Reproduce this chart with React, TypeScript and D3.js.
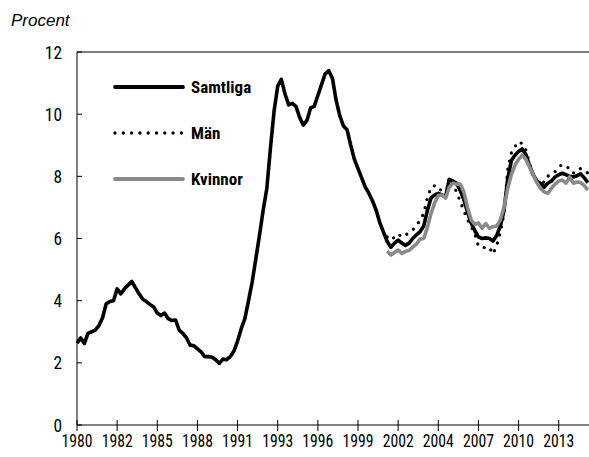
import { scaleLinear, line } from "d3";

// Arbetslöshet, kvartal 1980K1 – 2015K1
const genderStart = 85; // Män/Kvinnor börjar 2001K2

const samtliga = [
  2.63, 2.8, 2.62, 2.95, 3.0, 3.05, 3.2, 3.45, 3.9, 3.97,
  4.0, 4.38, 4.22, 4.38, 4.5, 4.62, 4.42, 4.22, 4.05, 3.97,
  3.88, 3.8, 3.6, 3.52, 3.6, 3.42, 3.36, 3.38, 3.05, 2.95,
  2.8, 2.57, 2.55, 2.45, 2.35, 2.2, 2.2, 2.18, 2.1, 1.98,
  2.12, 2.1, 2.2, 2.38, 2.7, 3.1, 3.42, 4.0, 4.6, 5.35,
  6.1, 6.9, 7.6, 8.9, 10.1, 10.9, 11.12, 10.65, 10.3, 10.35,
  10.25, 9.9, 9.65, 9.8, 10.2, 10.25, 10.6, 10.95, 11.3, 11.4,
  11.15, 10.45, 9.95, 9.62, 9.5, 9.0, 8.55, 8.25, 7.95, 7.65,
  7.45, 7.2, 6.9, 6.5, 6.2, 5.9, 5.72, 5.85, 5.95, 5.85,
  5.78, 5.85, 6.0, 6.12, 6.22, 6.4, 6.9, 7.3, 7.4, 7.45,
  7.4, 7.35, 7.9, 7.85, 7.78, 7.55, 7.25, 6.85, 6.5, 6.25,
  6.05, 6.0, 6.02, 6.0, 5.92, 6.1, 6.4, 6.9, 7.9, 8.5,
  8.68, 8.8, 8.88, 8.7, 8.35, 8.05, 7.85, 7.78, 7.65, 7.78,
  7.85, 7.98, 8.05, 8.1, 8.05, 8.0, 7.98, 8.02, 8.08, 7.95, 7.8,
];

const man = [
  6.05, 5.95, 6.05, 6.15, 6.05, 6.1, 6.2, 6.28, 6.4, 6.6,
  6.8, 7.3, 7.65, 7.7, 7.68, 7.5, 7.35, 7.95, 7.75, 7.5,
  7.2, 6.9, 6.6, 6.4, 6.15, 5.75, 5.72, 5.7, 5.72, 5.5,
  5.78, 6.2, 6.8, 8.2, 8.75, 8.95, 9.12, 9.05, 8.85, 8.4,
  8.05, 7.85, 7.9, 7.8, 8.0, 8.1, 8.15, 8.3, 8.38, 8.32,
  8.25, 8.1, 8.22, 8.25, 8.2, 8.1,
];

const kvinnor = [
  5.6, 5.47, 5.55, 5.63, 5.52, 5.58, 5.62, 5.72, 5.82, 5.98,
  6.0, 6.35, 6.8, 7.15, 7.38, 7.4, 7.3, 7.65, 7.78, 7.75,
  7.75, 7.5, 7.0, 6.6, 6.45, 6.5, 6.33, 6.48, 6.33, 6.38,
  6.4, 6.6, 7.0, 7.6, 8.05, 8.35, 8.55, 8.68, 8.55, 8.3,
  8.05, 7.8, 7.62, 7.5, 7.45, 7.62, 7.75, 7.85, 7.88, 7.78,
  7.98, 7.78, 7.82, 7.8, 7.7, 7.56,
];

const xTickLabels = [
  "1980", "1982", "1985", "1988", "1991", "1993", "1996",
  "1999", "2002", "2004", "2007", "2010", "2013",
];
const xTickStep = 11; // kvartal mellan etiketterna
const yTicks = [0, 2, 4, 6, 8, 10, 12];

const legend = [
  { name: "Samtliga", color: "#000", dash: null },
  { name: "Män", color: "#000", dash: "0 8.3" },
  { name: "Kvinnor", color: "#8a8a8a", dash: null },
];

const W = 589;
const H = 457;
const margin = { top: 52, left: 77, bottom: 32 };
const plotBottom = H - margin.bottom; // 425
const condensed = "'Liberation Sans Narrow', 'Roboto Condensed', 'DejaVu Sans Condensed', 'Arial Narrow', sans-serif";

export default function App() {
  const n = samtliga.length;
  const x = scaleLinear()
    .domain([0, n - 1])
    .range([margin.left, margin.left + (n - 1) * 3.6495]);
  const y = scaleLinear().domain([0, 12]).range([plotBottom, margin.top]);

  const pts = (vals: number[], offset: number) =>
    vals.map((v, i) => [x(i + offset), y(v)] as [number, number]);
  const path = line();

  const series = [
    { d: path(pts(samtliga, 0)), ...legend[0] },
    { d: path(pts(man, genderStart)), ...legend[1] },
    { d: path(pts(kvinnor, genderStart)), ...legend[2] },
  ];

  return (
    <svg
      width={W}
      height={H}
      style={{ position: "absolute", left: 0, top: 0, background: "#fff" }}
    >
      <text
        x={11}
        y={26}
        fontFamily="'Liberation Sans', Arial, sans-serif"
        fontStyle="italic"
        fontSize={17}
        fill="#000"
      >
        Procent
      </text>

      {/* ram */}
      <line x1={margin.left} x2={W + 2} y1={margin.top} y2={margin.top} stroke="#000" strokeWidth={1} />
      <line x1={margin.left} x2={margin.left} y1={margin.top} y2={plotBottom} stroke="#000" strokeWidth={1} />
      <line x1={margin.left} x2={W + 2} y1={plotBottom} y2={plotBottom} stroke="#000" strokeWidth={1} />

      {/* y-axel */}
      {yTicks.map((t) => (
        <g key={t}>
          <line x1={margin.left} x2={margin.left + 5} y1={y(t)} y2={y(t)} stroke="#000" />
          <text
            x={62}
            y={y(t)}
            dy="0.36em"
            textAnchor="end"
            fontFamily={condensed}
            fontSize={18.5}
            textLength={String(t).length * 8.6}
            lengthAdjust="spacingAndGlyphs"
            fill="#000"
          >
            {t}
          </text>
        </g>
      ))}

      {/* x-axel */}
      {xTickLabels.map((lab, k) => {
        const px = x(k * xTickStep);
        return (
          <g key={lab}>
            <line x1={px} x2={px} y1={plotBottom - 5} y2={plotBottom + 6} stroke="#000" />
            <text
              x={px}
              y={447}
              textAnchor="middle"
              fontFamily={condensed}
              fontSize={18.5}
              textLength={31}
              lengthAdjust="spacingAndGlyphs"
              fill="#000"
            >
              {lab}
            </text>
          </g>
        );
      })}

      {/* serier */}
      <g fill="none" strokeLinejoin="round">
        {series.map((s) => (
          <path
            key={s.name}
            d={s.d ?? ""}
            stroke={s.color}
            strokeWidth={s.dash ? 3.3 : 3.6}
            strokeDasharray={s.dash ?? undefined}
            strokeLinecap={s.dash ? "round" : "butt"}
          />
        ))}
      </g>

      {/* legend */}
      {legend.map((l, k) => {
        const ly = 87 + k * 46;
        return (
          <g key={l.name}>
            <line
              x1={115}
              x2={183}
              y1={ly}
              y2={ly}
              stroke={l.color}
              strokeWidth={l.dash ? 3.3 : 3.8}
              strokeDasharray={l.dash ?? undefined}
              strokeLinecap="round"
            />
            <text
              x={191}
              y={ly}
              dy="0.36em"
              fontFamily={condensed}
              fontWeight="bold"
              fontSize={17}
              fill="#000"
            >
              {l.name}
            </text>
          </g>
        );
      })}
    </svg>
  );
}
